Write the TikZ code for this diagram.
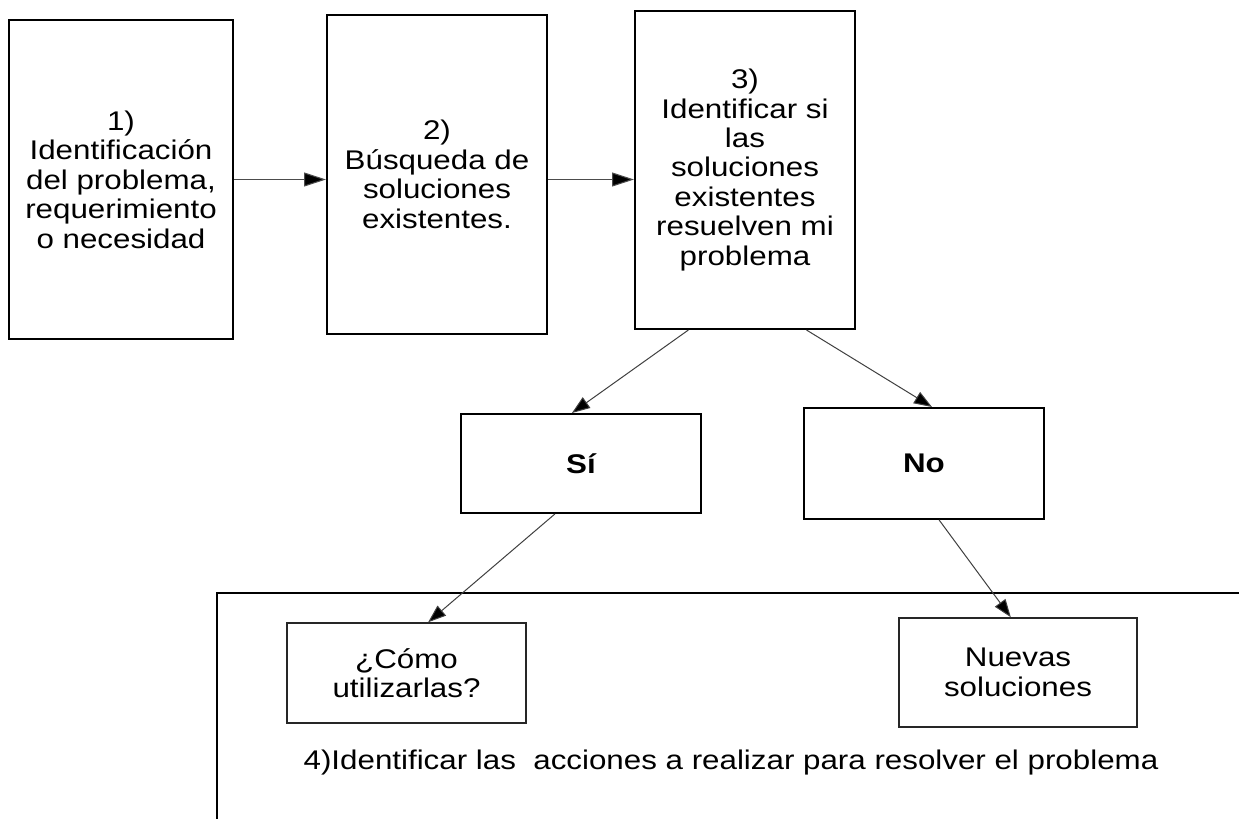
\documentclass[tikz,border=0pt]{standalone}
\usepackage{fontspec}
\setmainfont{Liberation Sans}[FakeStretch=1.16]
\usetikzlibrary{arrows.meta,calc}
\def\pxu{0.75pt}
\tikzset{
  box/.style={draw=black, line width=1.5pt, inner sep=0pt, align=center,
    font=\fontsize{20.25pt}{22.1pt}\selectfont},
  lbox/.style={draw=black!85, line width=1.1pt, inner sep=0pt, align=center,
    font=\fontsize{20.25pt}{22.1pt}\selectfont},
  harr/.style={draw=black!70, line width=0.8pt, -{Triangle[length=16.5pt,width=10.5pt,fill=black]}},
  darr/.style={draw=black!75, line width=0.75pt, -{Triangle[length=13.5pt,width=9.75pt,fill=black]}},
  frame/.style={draw=black, line width=1.5pt},
  plain/.style={inner sep=0pt, align=center, font=\fontsize{20.25pt}{22.1pt}\selectfont}
}
\begin{document}
\begin{tikzpicture}[x=0.75pt,y=-0.75pt]
\useasboundingbox (0,0) rectangle (1239,818);
\clip (0,0) rectangle (1239,818);
\fill[white] (0,0) rectangle (1239,818);

\node[box, minimum width=224*\pxu, minimum height=319*\pxu] (b1) at (121,179.5)
  {1)\\Identificación\\del problema,\\requerimiento\\o necesidad};
\node[box, minimum width=220*\pxu, minimum height=319*\pxu] (b2) at (437,174.5)
  {2)\\Búsqueda de\\soluciones\\existentes.};
\node[box, minimum width=220*\pxu, minimum height=318*\pxu] (b3) at (745,170)
  {3)\\Identificar si\\las\\soluciones\\existentes\\resuelven mi\\problema};

\node[box, minimum width=240*\pxu, minimum height=99*\pxu] (si) at (581,463.5)
  {\bfseries Sí};
\node[box, minimum width=240*\pxu, minimum height=111*\pxu] (no) at (924,463.5)
  {\bfseries No};

\coordinate (ftop) at (217,593);
\coordinate (fbot) at (217,840);
\coordinate (fright) at (1260,593);
\draw[frame] (fbot) -- (ftop) -- (fright);

\node[lbox, minimum width=239*\pxu, minimum height=100*\pxu] (como) at (406.5,673)
  {¿Cómo\\utilizarlas?};
\node[lbox, minimum width=238*\pxu, minimum height=109*\pxu] (nuevas) at (1018,672.5)
  {Nuevas\\soluciones};

\node[plain] (t4) at (731,763)
  {4)Identificar las\ \ acciones a realizar para resolver el problema};

\draw[harr] (b1.east) -- (b1.east -| b2.west);
\draw[harr] (b1.east -| b2.east) -- (b1.east -| b3.west);

\draw[darr] ($(b3.south west)!0.245!(b3.south east)$) -- ($(si.north west)!0.4625!(si.north east)$);
\draw[darr] ($(b3.south west)!0.777!(b3.south east)$) -- ($(no.north west)!0.533!(no.north east)$);
\draw[darr] ($(si.south west)!0.392!(si.south east)$) -- ($(como.north west)!0.59!(como.north east)$);
\draw[darr] ($(no.south west)!0.5625!(no.south east)$) -- ($(nuevas.north west)!0.47!(nuevas.north east)$);
\end{tikzpicture}
\end{document}
